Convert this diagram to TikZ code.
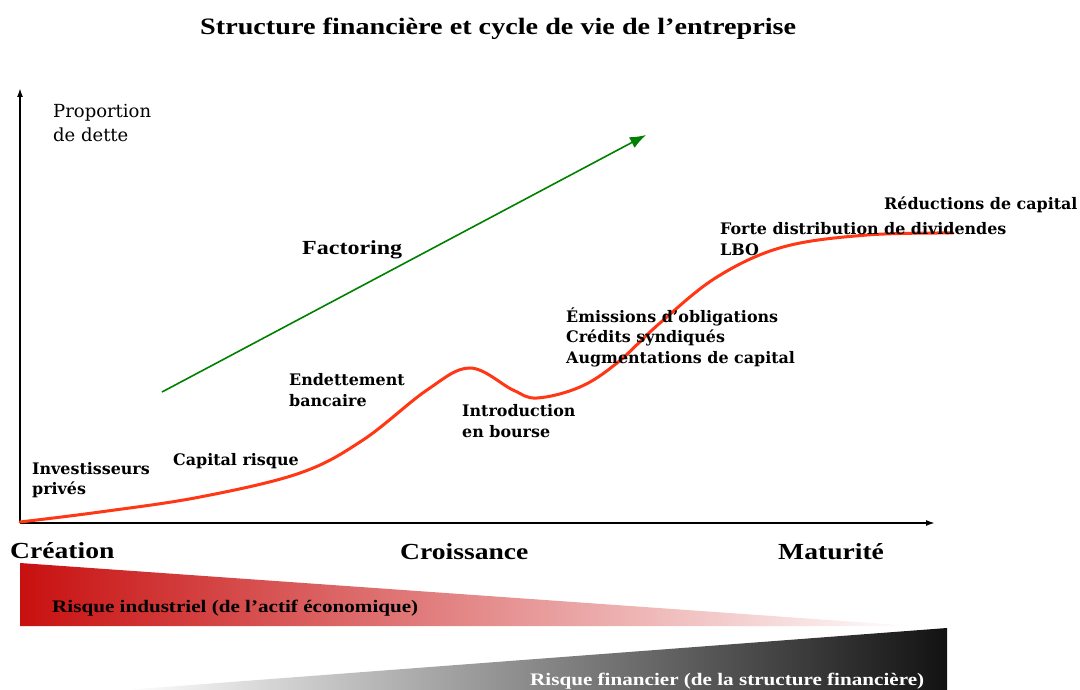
\documentclass[tikz,border=0pt]{standalone}
\usepackage{fontspec}
\setmainfont{Liberation Serif}
\newfontfamily\timesfont[FakeStretch=1.2]{Liberation Serif}
\newfontfamily\etiqfont{DejaVu Serif}
\usetikzlibrary{arrows.meta}
\usetikzlibrary{positioning}
\definecolor{courbe}{RGB}{255,55,20}
\definecolor{vertfact}{RGB}{0,128,0}
\definecolor{rougerisque}{RGB}{200,16,16}
\definecolor{noirrisque}{RGB}{18,18,18}

\tikzset{
  etiq/.style={font=\etiqfont\bfseries\fontsize{15.9}{20.5}\selectfont, align=left, inner sep=0pt, anchor=west},
  phase/.style={font=\timesfont\bfseries\fontsize{23}{26}\selectfont, inner sep=0pt, anchor=west},
  risque/.style={font=\timesfont\bfseries\fontsize{17.6}{20}\selectfont, inner sep=0pt, anchor=west},
  axe/.style={line width=1.7pt, -{Latex[length=9pt,width=6pt]}}
}

\begin{document}
\begin{tikzpicture}[x=1pt, y=-1pt] % 1 Einheit = 1 Pixel
\useasboundingbox (0,0) rectangle (1080,690);

% Titel
\node[font=\timesfont\bfseries\fontsize{23.5}{28}\selectfont, inner sep=0pt, anchor=west] (titre) at (200,29) {Structure financière et cycle de vie de l’entreprise};

% Risiko-Dreiecke
\shade[left color=rougerisque, right color=white] (20,563) -- (20,626) -- (914,626) -- cycle;
\shade[left color=white, right color=noirrisque] (125,690) -- (947,628) -- (947,690) -- cycle;
\node[risque] (rind) at (52,608) {Risque industriel (de l’actif économique)};
\node[risque, text=white] (rfin) at (530,681) {Risque financier (de la structure financière)};

% Achsen
\coordinate (O) at (20,523);
\coordinate (ymax) at (20,88);
\coordinate (xmax) at (935,523);
\draw[axe] (O) -- (ymax); % y-Achse
\draw[axe] (O) -- (xmax); % x-Achse
\node[font=\etiqfont\fontsize{18}{24}\selectfont, align=left, inner sep=0pt, anchor=west] (prop) at (53,123) {Proportion\\de dette};

% Phasen
\node[phase] (creation) at (10,551) {Création};
\node[phase] (croissance) at (400,552) {Croissance};
\node[phase] (maturite) at (778,552) {Maturité};

% Factoring
\coordinate (fdeb) at (162,392);
\coordinate (ffin) at (646,135);
\draw[vertfact, line width=1.6pt, -{Latex[length=16pt,width=12pt]}] (fdeb) -- (ffin);
\node[font=\timesfont\bfseries\fontsize{20}{24}\selectfont, inner sep=0pt, anchor=west] (fact) at (302,250) {Factoring};

% Kurve
\draw[courbe, line width=3pt, line cap=round] plot[smooth, tension=0.6] coordinates {
  (20,522) (100,512) (200,497) (300,473) (363,440) (427,390) (470,368) (513,390)
  (537,398) (580,387) (617,363) (660,323) (717,277) (783,247) (867,235) (953,233)};

% Finanzierungsformen
\node[etiq] (invest) at (32,480) {Investisseurs\\privés};
\node[etiq] (caprisque) at (173,461) {Capital risque};
\node[etiq] (endet) at (289,390) {Endettement\\bancaire};
\node[etiq] (intro) at (462,421) {Introduction\\en bourse};
\node[etiq] (emiss) at (566,337) {Émissions d’obligations\\Crédits syndiqués\\Augmentations de capital};
\node[etiq] (forte) at (720,239) {Forte distribution de dividendes\\LBO};
\node[etiq] (reduc) at (884,205) {Réductions de capital};
\end{tikzpicture}
\end{document}
